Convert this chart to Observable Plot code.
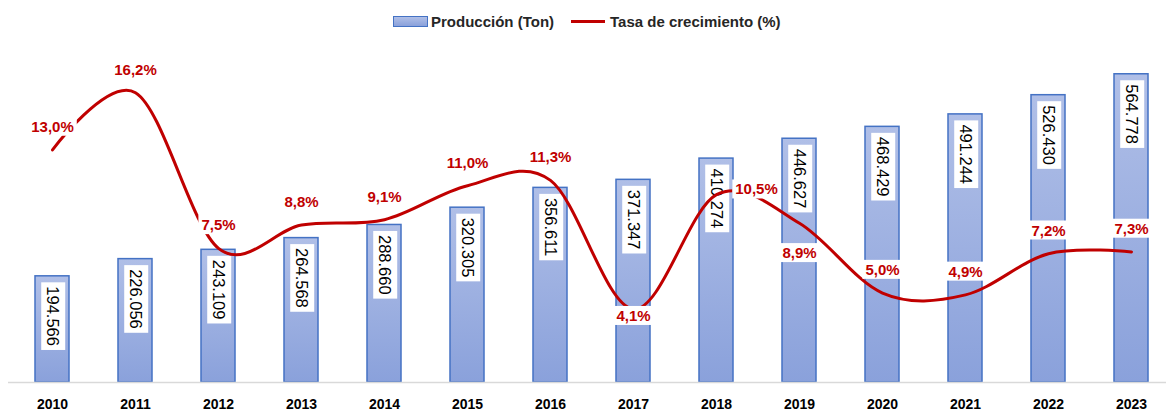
<!DOCTYPE html>
<html>
<head>
<meta charset="utf-8">
<script src="https://cdn.jsdelivr.net/npm/d3@7"></script>
<script src="https://cdn.jsdelivr.net/npm/@observablehq/plot@0.6"></script>
<style>
  html, body { margin: 0; padding: 0; background: #fff; }
  body { width: 1166px; height: 413px; overflow: hidden; font-family: "Liberation Sans", Arial, sans-serif; }
  #legend { height: 38px; position: relative; font-weight: bold; font-size: 15px; color: #262626; }
  #legend .item { position: absolute; top: 12px; display: flex; align-items: center; height: 18px; }
  #legend .sw-bar { width: 33px; height: 9px; border: 1.2px solid #4472C4; background: linear-gradient(#b0bfe7, #8aa1db); margin-right: 3px; }
  #legend .sw-line { width: 34px; height: 3px; background: #C00000; margin-right: 5px; }
</style>
</head>
<body>
<div id="legend">
  <div class="item" style="left:393px"><span class="sw-bar"></span><span>Producción (Ton)</span></div>
  <div class="item" style="left:571px"><span class="sw-line"></span><span>Tasa de crecimiento (%)</span></div>
</div>
<div id="chart"></div>
<script>
const years = ["2010","2011","2012","2013","2014","2015","2016","2017","2018","2019","2020","2021","2022","2023"];
const produccion = [194566, 226056, 243109, 264568, 288660, 320305, 356611, 371347, 410274, 446627, 468429, 491244, 526430, 564778];
const crecimiento = [13.0, 16.2, 7.5, 8.8, 9.1, 11.0, 11.3, 4.1, 10.5, 8.9, 5.0, 4.9, 7.2, 7.3];
const labelPlacement = ["above","above","above","above","above","above","above","center","right","below","above","above","above","above"];

const prodMax = 590000;
const pctMax = 18;
const pctToProd = d3.scaleLinear([0, pctMax], [0, prodMax]);

const loc = d3.formatLocale({decimal: ",", thousands: ".", grouping: [3], currency: ["", ""]});
const fmtProd = loc.format(",d");
const fmtPct = v => loc.format(".1f")(v) + "%";

const rows = years.map((y, i) => ({
  year: y,
  prod: produccion[i],
  pct: crecimiento[i],
  pctY: pctToProd(crecimiento[i]),
  place: labelPlacement[i]
}));

const pctText = (place, dx, dy) => Plot.text(rows.filter(d => d.place === place), {
  x: "year", y: "pctY", text: d => fmtPct(d.pct),
  dx, dy, fill: "#C00000", fontWeight: "bold", fontSize: 15,
  className: "boxed"
});

const chart = Plot.plot({
  width: 1166,
  height: 375,
  marginLeft: 8,
  marginRight: 0,
  marginTop: 22,
  marginBottom: 31,
  style: {fontFamily: "'Liberation Sans', Arial, sans-serif", background: "white", overflow: "visible"},
  x: {domain: years, paddingInner: 0.585, paddingOuter: 0.2515, align: 0.6146, label: null},
  y: {domain: [0, prodMax], axis: null},
  marks: [
    Plot.barY(rows, {x: "year", y: "prod", fill: "url(#barGrad)", stroke: "#4472C4", strokeWidth: 1.5}),
    Plot.ruleY([0], {stroke: "#d9d9d9", strokeWidth: 1.5}),
    Plot.axisX({tickSize: 0, tickPadding: 17, fontSize: 14, fontWeight: "bold", fill: "#000", label: null}),
    Plot.text(rows, {
      x: "year", y: "prod", text: d => fmtProd(d.prod),
      rotate: 90, textAnchor: "start", lineAnchor: "middle",
      dy: 10, fontSize: 16.5, fill: "#000", className: "boxed-bar"
    }),
    Plot.line(rows, {x: "year", y: "pctY", stroke: "#C00000", strokeWidth: 3, curve: "cardinal"}),
    pctText("above", 0, -23),
    pctText("center", 0, 7),
    pctText("right", 40, -5),
    pctText("below", 0, 30)
  ]
});

document.getElementById("chart").appendChild(chart);

// gradient definition for bars
const ns = "http://www.w3.org/2000/svg";
const svg = chart.tagName.toLowerCase() === "svg" ? chart : chart.querySelector("svg");
const defs = document.createElementNS(ns, "defs");
const grad = document.createElementNS(ns, "linearGradient");
grad.setAttribute("id", "barGrad");
grad.setAttribute("x1", "0"); grad.setAttribute("y1", "0");
grad.setAttribute("x2", "0"); grad.setAttribute("y2", "1");
[["0%", "#b0bfe7"], ["100%", "#8aa1db"]].forEach(([o, c]) => {
  const s = document.createElementNS(ns, "stop");
  s.setAttribute("offset", o); s.setAttribute("stop-color", c);
  grad.appendChild(s);
});
defs.appendChild(grad);
svg.insertBefore(defs, svg.firstChild);

// white boxes behind labels
function boxify(cls, padX, padY) {
  svg.querySelectorAll("g." + cls + " text").forEach(t => {
    const b = t.getBBox();
    const r = document.createElementNS(ns, "rect");
    r.setAttribute("x", b.x - padX);
    r.setAttribute("y", b.y - padY);
    r.setAttribute("width", b.width + 2 * padX);
    r.setAttribute("height", b.height + 2 * padY);
    r.setAttribute("fill", "white");
    const tr = t.getAttribute("transform");
    if (tr) r.setAttribute("transform", tr);
    t.parentNode.insertBefore(r, t);
  });
}
boxify("boxed-bar", 4, 3);
boxify("boxed", 3, 1);
</script>
</body>
</html>
